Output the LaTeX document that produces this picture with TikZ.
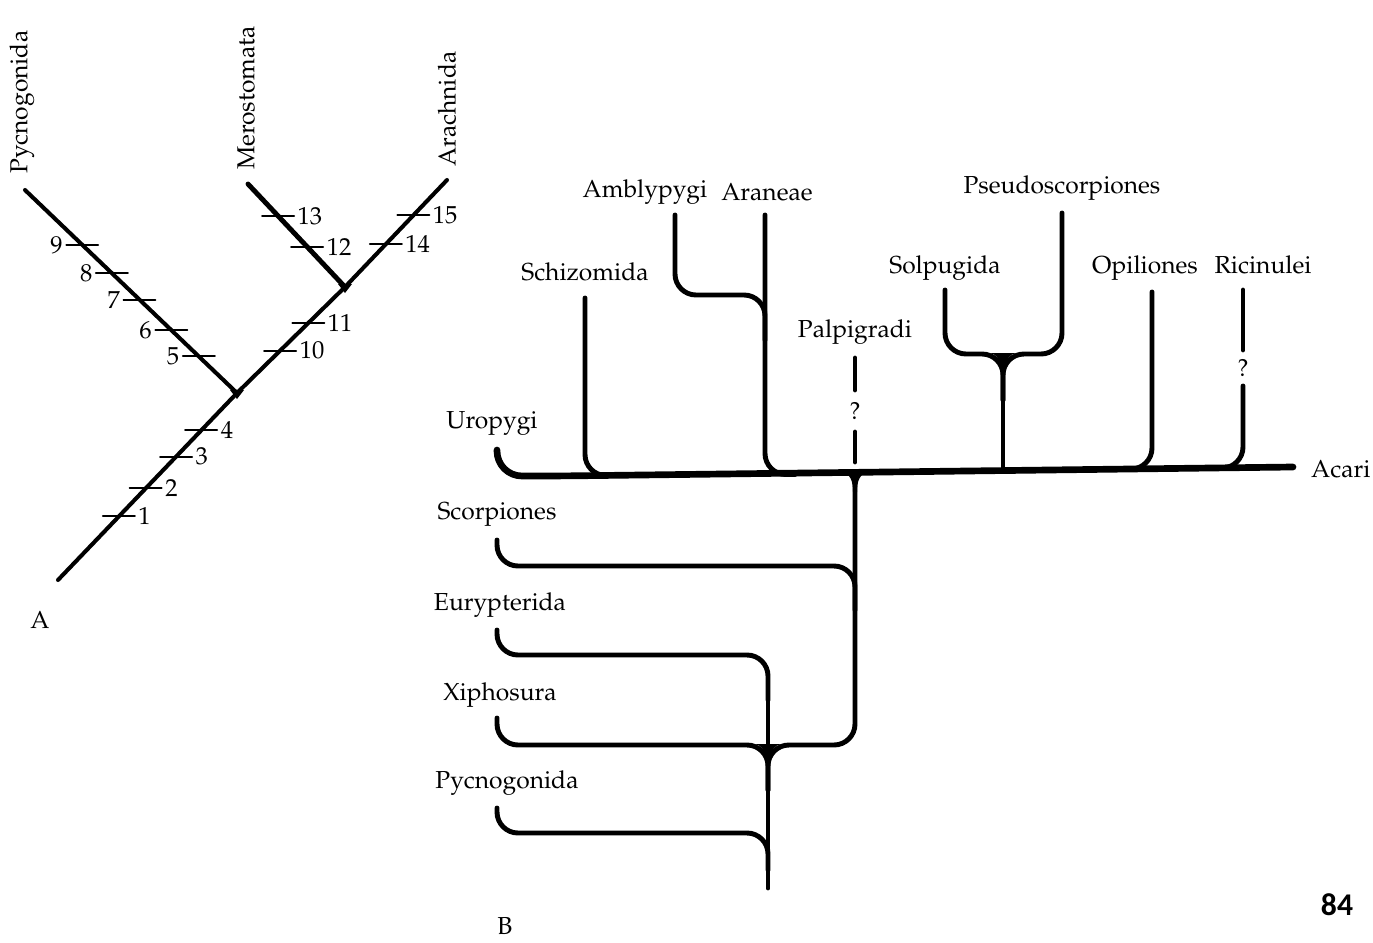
\documentclass[tikz,border=0pt]{standalone}
\usepackage[T1]{fontenc}
\usepackage{fontspec}
\newfontfamily\carlito{Carlito}
\newcommand\pala{\fontencoding{T1}\fontfamily{ppl}\selectfont}
\usetikzlibrary{calc}
\begin{document}
\begin{tikzpicture}[x=0.02cm, y=-0.02cm, line cap=round, line join=round,
		font=\pala\fontsize{14}{16}\selectfont,
		stem/.style={line width=2.3pt},
		tick/.style={line width=1.1pt},
		num/.style={inner sep=1.5pt},
		branch/.style={line width=2.8pt, rounded corners=0.42cm},
		trunk/.style={line width=3.8pt, rounded corners=0.5cm}]
	\useasboundingbox (0,0) rectangle (1373,943);
	% A
	\coordinate (root) at (58,580);
	\coordinate (n1) at (237,393);
	\coordinate (n2) at (345,287);
	\coordinate (pyc) at (25,190);
	\coordinate (mer) at (248,184);
	\coordinate (ara) at (447,180);
	\draw[stem] (root) -- (n1) -- (n2) -- (ara);
	\draw[stem] (pyc) -- (n1);
	\draw[stem, line width=2.8pt] (mer) -- (n2);
	\foreach \u in {n1,n2}{\fill (\u) ++(-7,-3) -- ++(14,0) -- ++(-7,9) -- cycle;}
	\node[rotate=90, anchor=west] (tpyc) at (22,180) {Pycnogonida};
	\node[rotate=90, anchor=west] (tmer) at (246,176) {Merostomata};
	\node[rotate=90, anchor=west] (tara) at (447,173) {Arachnida};
	\foreach \t/\n/\a/\b in {.34/1/root/n1, .49/2/root/n1, .66/3/root/n1, .80/4/root/n1,
			.40/10/n1/n2, .66/11/n1/n2, .39/12/n2/mer, .69/13/n2/mer, .40/14/n2/ara, .67/15/n2/ara}
		{\path ($(\a)!\t!(\b)$) coordinate (k\n);
		 \draw[tick] ($(k\n)+(-16,0)$) -- ($(k\n)+(16,0)$) node[right,num] (m\n) {\n};}
	\foreach \t/\n in {.18/5, .31/6, .46/7, .59/8, .73/9}
		{\path ($(n1)!\t!(pyc)$) coordinate (k\n);
		 \draw[tick] ($(k\n)+(16,0)$) -- ($(k\n)+(-16,0)$) node[left,num] (m\n) {\n};}
	\node (la) at (40,620) {A};
	% B
	\node (uro) at (492,423) {Uropygi};
	\node (sch) at (585,272) {Schizomida};
	\node (amb) at (645,192) {Amblypygi};
	\node (arn) at (767,192) {Araneae};
	\node (pal) at (855,332) {Palpigradi};
	\node (sol) at (945,268) {Solpugida};
	\node (pse) at (1062,188) {Pseudoscorpiones};
	\node (opi) at (1145,268) {Opiliones};
	\node (ric) at (1263,265) {Ricinulei};
	\node[anchor=west] (aca) at (1305,469) {Acari};
	\node (sco) at (497,514) {Scorpiones};
	\node (eur) at (500,605) {Eurypterida};
	\node (xip) at (500,695) {Xiphosura};
	\node (pyb) at (507,783) {Pycnogonida};
	\node (lb) at (505,926) {B};
	\node[font=\carlito\bfseries\fontsize{18}{20}\selectfont] (pg) at (1337,905) {84};
	\coordinate (j0) at (855,475);
	\coordinate (j1) at (768,752);
	\coordinate (j2) at (1003,362);
	\coordinate (end) at (1293,467);
	\draw[trunk] (497,450) |- (560,476) -- (end);
	\draw[branch] (585,298) |- (630,475.5);
	\draw[branch] (675,215) |- (765,295) -- (765,340);
	\draw[branch] (765,215) |- (795,474.5);
	\draw[branch] (855,358) -- (855,390);
	\node (q1) at (855,411) {?};
	\draw[branch] (855,432) -- (855,462);
	\draw[branch] (945,290) |- (1003,354) -- (1003,400);
	\draw[branch] (1062,213) |- (1003,354) -- (1003,400);
	\draw[branch] (j2) -- (1003,471);
	\draw[branch] (1152,292) |- (1115,469);
	\draw[branch] (1243,290) -- (1243,350);
	\node (q2) at (1243,368) {?};
	\draw[branch] (1243,386) |- (1205,468);
	\draw[branch] (j0) -- (855,745) -- (768,745) -- (768,790);
	\draw[branch] (497,540) |- (855,566) -- (855,610);
	\draw[branch] (497,630) |- (768,655) -- (768,700);
	\draw[branch] (497,718) |- (768,745) -- (768,790);
	\draw[branch] (497,808) |- (768,833) -- (768,870);
	\draw[branch] (768,690) -- (768,888);
	\fill (j0) ++(-16,-3) .. controls +(12,0) and +(0,-10) .. ++(14,20) -- ++(4,0) .. controls +(0,-10) and +(-12,0) .. ++(14,-20) -- cycle;
	\fill (j1) ++(-16,-8) .. controls +(12,0) and +(0,-10) .. ++(14,20) -- ++(4,0) .. controls +(0,-10) and +(-12,0) .. ++(14,-20) -- cycle;
	\fill (j2) ++(-16,-9) .. controls +(12,0) and +(0,-10) .. ++(14,20) -- ++(4,0) .. controls +(0,-10) and +(-12,0) .. ++(14,-20) -- cycle;
\end{tikzpicture}
\end{document}
